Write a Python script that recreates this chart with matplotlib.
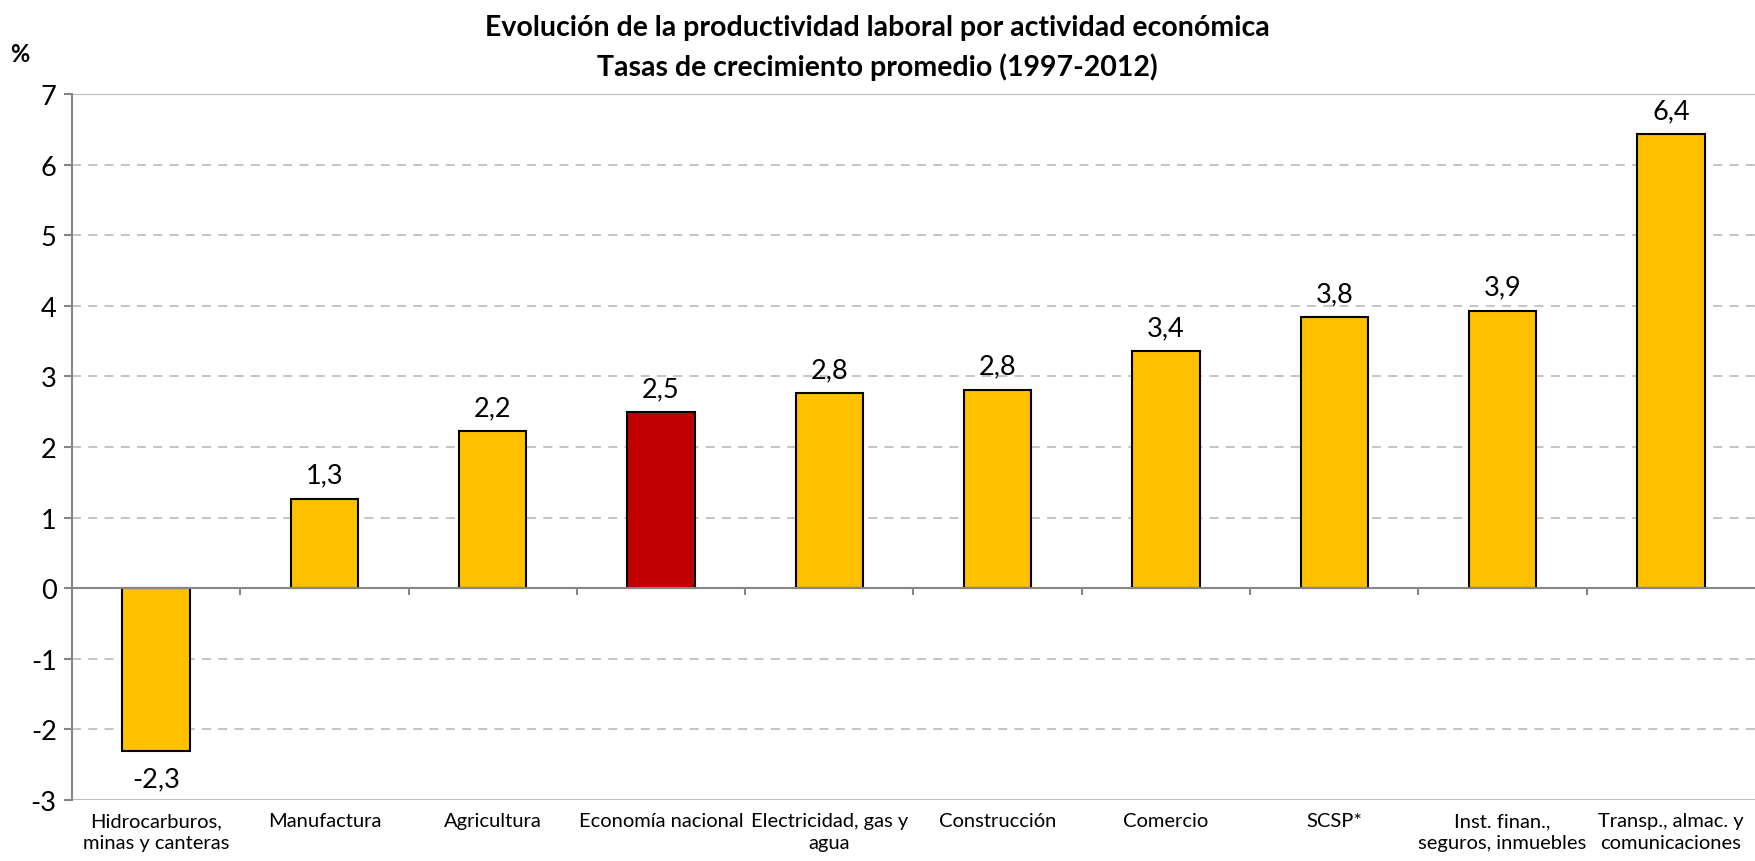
import numpy as np
import matplotlib
matplotlib.use("Agg")
import matplotlib.pyplot as plt

plt.rcParams['font.family'] = ['Lato', 'DejaVu Sans']

# Data
categories = [
    "Hidrocarburos,\nminas y canteras",
    "Manufactura",
    "Agricultura",
    "Economía nacional",
    "Electricidad, gas y\nagua",
    "Construcción",
    "Comercio",
    "SCSP*",
    "Inst. finan.,\nseguros, inmuebles",
    "Transp., almac. y\ncomunicaciones",
]
values = [-2.30, 1.27, 2.22, 2.49, 2.76, 2.81, 3.36, 3.84, 3.93, 6.43]
highlight = "Economía nacional"

yticks = list(range(-3, 8))

YELLOW = "#FFC000"
RED = "#C00000"
GRID = "#BFBFBF"
AXIS = "#868686"

fig = plt.figure(figsize=(17.55, 8.62), dpi=100)
ax = fig.add_axes([0.041, 0.0708, 0.959, 0.819])

x = np.arange(len(categories))
colors = [RED if c == highlight else YELLOW for c in categories]
ax.bar(x, values, width=0.4, color=colors, edgecolor="black", linewidth=1.5, zorder=3)

ax.set_xlim(-0.5, len(categories) - 0.5)
ax.set_ylim(-3, 7)

# gridlines
for t in yticks:
    if t in (-3, 7):
        ax.axhline(t, color=GRID, lw=1.5, zorder=1)
    elif t != 0:
        ax.axhline(t, color=GRID, lw=1.3, ls=(0, (5, 4)), zorder=1)

# zero line with category boundary ticks
ax.axhline(0, color=AXIS, lw=1.5, zorder=4)
bounds = x[:-1] + 0.5
ax.vlines(bounds, -0.1, 0, color=AXIS, lw=1.5, zorder=4)

for s in ["top", "right", "bottom"]:
    ax.spines[s].set_visible(False)
ax.spines["left"].set_color(AXIS)
ax.spines["left"].set_linewidth(1.5)

ax.set_yticks(yticks)
ax.set_yticklabels([str(t) for t in yticks], fontsize=19.5)
ax.tick_params(axis="y", length=6, width=1.5, color=AXIS, pad=5)

ax.set_xticks(x)
ax.set_xticklabels(categories, fontsize=14.5, linespacing=1.3)
ax.tick_params(axis="x", length=0, pad=9)

# value labels
for xi, v in zip(x, values):
    txt = f"{v:.1f}".replace(".", ",")
    if v >= 0:
        ax.annotate(txt, (xi, v), xytext=(0, 8), textcoords="offset points",
                    ha="center", va="bottom", fontsize=19.5)
    else:
        ax.annotate(txt, (xi, v), xytext=(0, -11), textcoords="offset points",
                    ha="center", va="top", fontsize=19.5)

fig.text(0.5, 0.967, "Evolución de la productividad laboral por actividad económica",
         ha="center", va="center", fontsize=20.5, fontweight="bold")
fig.text(0.5, 0.922, "Tasas de crecimiento promedio (1997-2012)",
         ha="center", va="center", fontsize=20.5, fontweight="bold")
fig.text(0.0115, 0.937, "%", ha="center", va="center", fontsize=17, fontweight="bold")

fig.savefig("out.png", dpi=100)
